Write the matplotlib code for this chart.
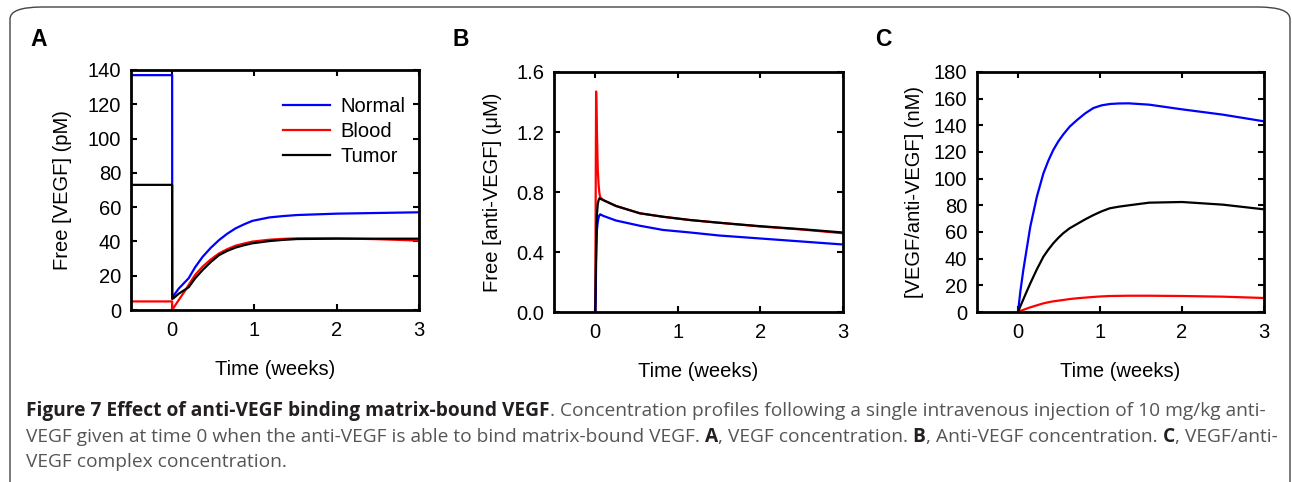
import matplotlib
matplotlib.use("Agg")
import matplotlib.pyplot as plt
from matplotlib.patches import FancyBboxPatch
from matplotlib.lines import Line2D

# panel A: free VEGF (pM)
time_a = [-0.5, 0, 0.001, 0.02, 0.08, 0.16, 0.2, 0.28, 0.37, 0.47, 0.57, 0.67, 0.77, 0.875, 0.975, 1.18, 1.35, 1.52, 2.0, 2.5, 3.0]
normal_a = [137, 137, 7, 8.5, 12.5, 16.5, 18.5, 25, 31, 36.3, 40.8, 44.5, 47.6, 50, 52, 54, 54.8, 55.4, 56.2, 56.6, 57]
blood_a = [5, 5, 0, 1.5, 5.8, 11.5, 14.6, 20.5, 25.3, 29.5, 33, 35.5, 37.5, 38.8, 39.9, 41, 41.5, 41.8, 41.8, 41.3, 40.5]
tumor_a = [73, 73, 6.4, 7, 9.5, 12, 13.2, 18.5, 23.3, 28, 32, 34.5, 36.4, 37.8, 38.9, 40.2, 40.9, 41.4, 41.6, 41.6, 41.6]

# panel B: free anti-VEGF (uM)
time_b = [0, 0.005, 0.01, 0.02, 0.03, 0.04, 0.05, 0.06, 0.1, 0.25, 0.54, 0.82, 1.15, 1.5, 2.0, 2.5, 3.0]
normal_b = [0, 0.1, 0.33, 0.55, 0.6, 0.63, 0.645, 0.651, 0.64, 0.61, 0.575, 0.547, 0.53, 0.51, 0.49, 0.47, 0.45]
blood_b = [0, 0.8, 1.47, 1.2, 0.95, 0.85, 0.79, 0.765, 0.745, 0.707, 0.658, 0.635, 0.613, 0.595, 0.57, 0.55, 0.525]
tumor_b = [0, 0.2, 0.45, 0.65, 0.72, 0.745, 0.758, 0.755, 0.745, 0.707, 0.658, 0.635, 0.613, 0.595, 0.572, 0.552, 0.53]

# panel C: VEGF/anti-VEGF complex (nM)
time_c = [0, 0.03, 0.065, 0.1, 0.15, 0.23, 0.31, 0.37, 0.43, 0.49, 0.55, 0.63, 0.72, 0.82, 0.92, 1.02, 1.12, 1.23, 1.35, 1.6, 2.0, 2.5, 3.0]
normal_c = [0, 16, 31.5, 45, 64, 86.5, 104, 113.5, 121.5, 127.8, 133, 139, 144, 149, 153, 155, 156, 156.4, 156.5, 155.5, 152, 148, 143]
blood_c = [0, 0.8, 1.6, 2.4, 3.5, 5, 6.5, 7.3, 8, 8.5, 9, 9.7, 10.3, 10.8, 11.3, 11.7, 12, 12.1, 12.2, 12.2, 12, 11.5, 10.5]
tumor_c = [0, 4.5, 9.5, 14.5, 21.5, 32, 41.5, 46.8, 51.5, 55.5, 59, 62.8, 66, 69.5, 72.7, 75.5, 77.8, 79, 80, 82, 82.5, 80.5, 77]

series_names = ["Normal", "Blood", "Tumor"]
colors = {"Normal": "#0000ff", "Blood": "#ff0000", "Tumor": "#000000"}

W, H = 1292, 482
fig = plt.figure(figsize=(W / 100, H / 100), dpi=100)
plt.rcParams["font.family"] = ["Liberation Sans", "DejaVu Sans"]


def box(l, r, t, b):
    return [l / W, (H - b) / H, (r - l) / W, (b - t) / H]


def style(ax, ylim, yticks, yfmt, ylabel, ypad):
    ax.set_xlim(-0.5, 3)
    ax.set_ylim(*ylim)
    ax.set_xticks([0, 1, 2, 3])
    ax.set_yticks(yticks)
    ax.set_yticklabels([yfmt % v for v in yticks])
    ax.tick_params(direction="in", length=4, width=1.5, top=True, right=True,
                   labelsize=14.5)
    ax.tick_params(axis="x", pad=8)
    ax.tick_params(axis="y", pad=7)
    for s in ax.spines.values():
        s.set_linewidth(2)
    ax.set_xlabel("Time (weeks)", fontsize=14.5, labelpad=14)
    ax.set_ylabel(ylabel, fontsize=14.5, labelpad=ypad)


panels = [
    ("A", box(131, 419, 70, 310), time_a, normal_a, blood_a, tumor_a,
     (0, 140), [0, 20, 40, 60, 80, 100, 120, 140], "%d", "Free [VEGF] (pM)", 11),
    ("B", box(554, 843, 72, 312), time_b, normal_b, blood_b, tumor_b,
     (0, 1.6), [0.0, 0.4, 0.8, 1.2, 1.6], "%.1f", "Free [anti-VEGF] (\u03bcM)", 10),
    ("C", box(977, 1264, 72, 312), time_c, normal_c, blood_c, tumor_c,
     (0, 180), list(range(0, 181, 20)), "%d", "[VEGF/anti-VEGF] (nM)", 7),
]

axes = []
for label, rect, t, nrm, bld, tum, ylim, yt, fmt, ylab, ypad in panels:
    ax = fig.add_axes(rect)
    ax.plot(t, bld, color=colors["Blood"], lw=1.6)
    ax.plot(t, nrm, color=colors["Normal"], lw=1.6)
    ax.plot(t, tum, color=colors["Tumor"], lw=1.6)
    style(ax, ylim, yt, fmt, ylab, ypad)
    axes.append(ax)

label_x = [30, 453, 875]
for lx, p in zip(label_x, panels):
    fig.text(lx / W, 1 - 40 / H, p[0], fontsize=16.5, weight="bold", va="center")

handles = [Line2D([], [], color=colors[n], lw=1.6) for n in series_names]
axes[0].legend(handles, series_names, loc="upper right", frameon=False,
               fontsize=14.5, handlelength=2.35, handletextpad=0.5,
               labelspacing=0.3, borderaxespad=0, bbox_to_anchor=(0.98, 0.92))

# rounded frame around the figure
frame = FancyBboxPatch((10 / W, -0.05), 1280 / W, (H - 7) / H + 0.05,
                       boxstyle="round,pad=0,rounding_size=0.025",
                       transform=fig.transFigure, fill=False,
                       edgecolor="#444444", lw=1.0)
fig.patches.append(frame)

# caption with bold runs
cap_font = ["Open Sans", "DejaVu Sans"]
renderer = fig.canvas.get_renderer()


def put_runs(x, y, runs):
    for txt, bold in runs:
        tx = fig.text(x / W, 1 - y / H, txt, fontsize=13.8,
                      family=cap_font, weight="bold" if bold else "normal",
                      color="#231f20" if bold else "#555555", va="baseline")
        x += tx.get_window_extent(renderer).width


put_runs(26, 416, [("Figure 7 Effect of anti-VEGF binding matrix-bound VEGF", True),
                   (". Concentration profiles following a single intravenous injection of 10 mg/kg anti-", False)])
put_runs(26, 442, [("VEGF given at time 0 when the anti-VEGF is able to bind matrix-bound VEGF.", False),
                   (" A", True), (", VEGF concentration.", False),
                   (" B", True), (", Anti-VEGF concentration.", False),
                   (" C", True), (", VEGF/anti-", False)])
put_runs(26, 467, [("VEGF complex concentration.", False)])

fig.savefig("out.png", dpi=100)
